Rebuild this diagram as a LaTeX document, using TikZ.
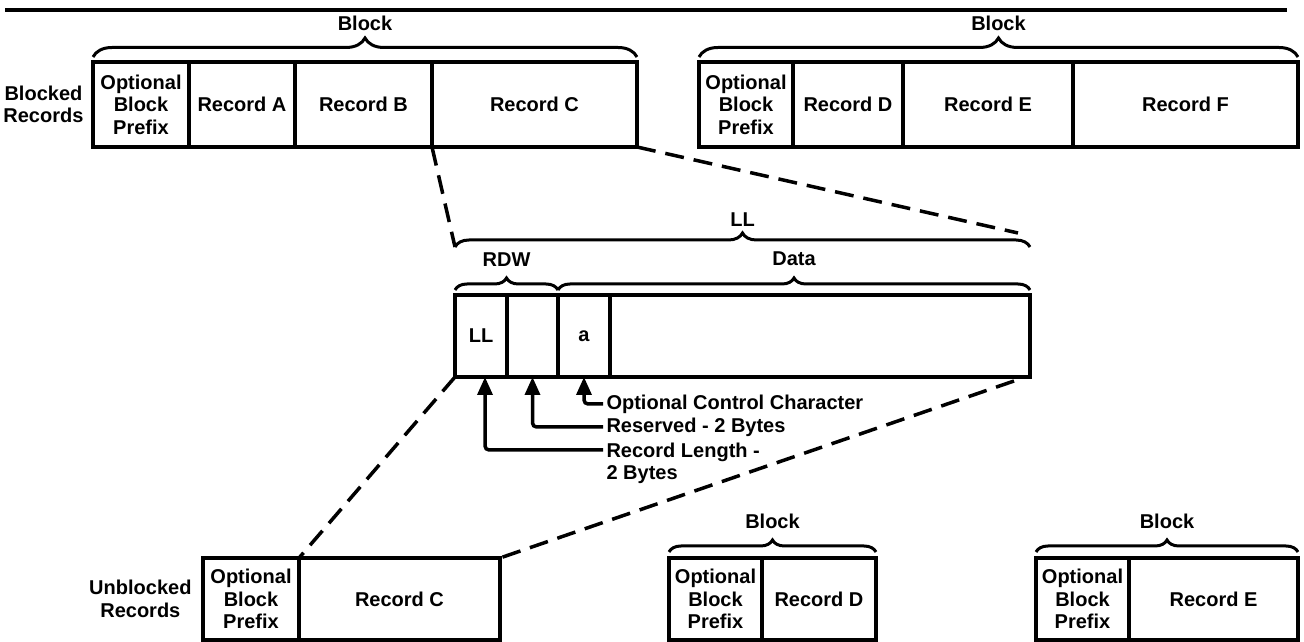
\documentclass[tikz,border=0pt]{standalone}
\usepackage{fontspec}
\setmainfont{Liberation Sans}
\usetikzlibrary{positioning,decorations.pathreplacing,arrows.meta}

\tikzset{
  cell/.style={draw, line width=4pt, outer sep=0pt, inner sep=0pt,
    minimum height=82pt, align=center},
  brc/.style={decorate, decoration={brace, amplitude=#1}, line width=3pt},
  dsh/.style={line width=3.5pt, dash pattern=on 19pt off 10pt},
  ptr/.style={-{Triangle[width=15pt,length=18pt]}, line width=3.5pt, rounded corners=4pt},
}

\begin{document}
\begin{tikzpicture}[x=1pt, y=1pt, font=\fontsize{20}{22.5}\selectfont\bfseries]
  \useasboundingbox (0,0) rectangle (1304,642);
  % 上の罫線
  \draw[line width=3.5pt] (5,632) -- (1287,632);
  % Blocked Records
  \node[cell, minimum height=85pt, minimum width=96pt, anchor=north west] (p1) at (93,580) {Optional\\Block\\Prefix};
  \node[cell, minimum height=85pt, minimum width=106pt, right=0pt of p1] (ra) {Record A};
  \node[cell, minimum height=85pt, minimum width=137pt, right=0pt of ra] (rb) {Record B};
  \node[cell, minimum height=85pt, minimum width=205pt, right=0pt of rb] (rc) {Record C};
  \node[left=6pt of p1, align=center] (blk) {Blocked\\Records};
  \draw[brc=19pt] ([yshift=5pt]p1.north west) -- ([yshift=5pt]rc.north east) node[midway, above=21pt] {Block};

  \node[cell, minimum height=85pt, minimum width=94pt, anchor=north west] (p2) at (699,580) {Optional\\Block\\Prefix};
  \node[cell, minimum height=85pt, minimum width=110pt, right=0pt of p2] (rd) {Record D};
  \node[cell, minimum height=85pt, minimum width=170pt, right=0pt of rd] (re) {Record E};
  \node[cell, minimum height=85pt, minimum width=225pt, right=0pt of re] (rf) {Record F};
  \draw[brc=19pt] ([yshift=5pt]p2.north west) -- ([yshift=5pt]rf.north east) node[midway, above=21pt] {Block};

  % レコードの中身
  \node[cell, minimum width=52pt, anchor=north west] (ll) at (455,347) {LL};
  \node[cell, minimum width=51pt, right=0pt of ll] (rsv) {};
  \node[cell, minimum width=52pt, right=0pt of rsv] (cc) {a};
  \node[cell, minimum width=420pt, right=0pt of cc] (dat) {};
  \draw[brc=14pt] ([yshift=48pt]ll.north west) -- ([yshift=48pt]dat.north east) node[midway, above=16pt] {LL};
  \draw[brc=12pt] ([yshift=5pt]ll.north west) -- ([yshift=5pt]rsv.north east) node[midway, above=19pt] {RDW};
  \draw[brc=12pt] ([yshift=5pt]rsv.north east) -- ([yshift=5pt]dat.north east) node[midway, above=19pt] {Data};

  % 説明と矢印
  \node[anchor=west] (occ) at (603,238) {Optional Control Character};
  \node[anchor=west] (rsvtxt) at (603,215) {Reserved - 2 Bytes};
  \node[anchor=north west, align=left] (rlen) at (603,203) {Record Length -\\2 Bytes};
  \draw[ptr] (occ.west) -| (cc.south);
  \draw[ptr] (rsvtxt.west) -| (rsv.south);
  \draw[ptr] ([yshift=-11pt]rlen.north west) -| ([xshift=4pt]ll.south);

  % Unblocked Records
  \node[cell, minimum width=96pt, anchor=north west] (up1) at (203,84) {Optional\\Block\\Prefix};
  \node[cell, minimum width=201pt, right=0pt of up1] (uc) {Record C};
  \node[left=8pt of up1, align=center] (ublk) {Unblocked\\Records};

  \node[cell, minimum width=93pt, anchor=north west] (up2) at (669,84) {Optional\\Block\\Prefix};
  \node[cell, minimum width=114pt, right=0pt of up2] (ud) {Record D};
  \draw[brc=12pt] ([yshift=6pt]up2.north west) -- ([yshift=6pt]ud.north east) node[midway, above=18pt] {Block};

  \node[cell, minimum width=93pt, anchor=north west] (up3) at (1036,84) {Optional\\Block\\Prefix};
  \node[cell, minimum width=169pt, right=0pt of up3] (ue) {Record E};
  \draw[brc=12pt] ([yshift=6pt]up3.north west) -- ([yshift=6pt]ue.north east) node[midway, above=18pt] {Block};

  % 破線
  \draw[dsh] (rb.south east) -- ([yshift=48pt]ll.north west);
  \draw[dsh] (rc.south east) -- ([shift={(-12pt,62pt)}]dat.north east);
  \draw[dsh] (ll.south west) -- (up1.north east);
  \draw[dsh] ([shift={(-16pt,-4pt)}]dat.south east) -- (uc.north east);
\end{tikzpicture}
\end{document}
